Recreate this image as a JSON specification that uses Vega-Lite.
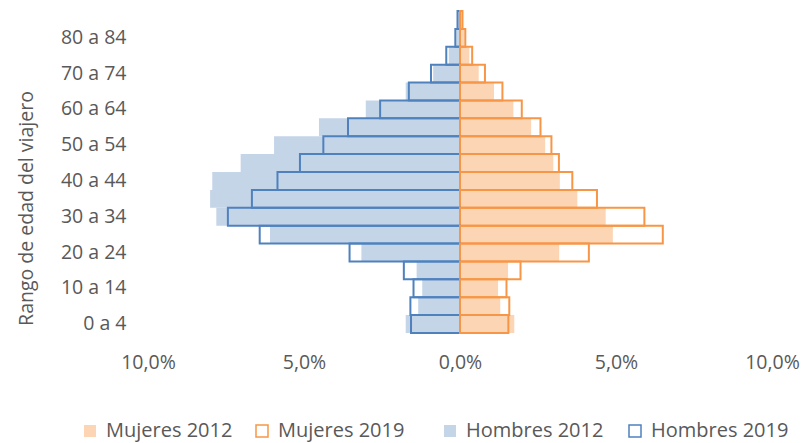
{
  "$schema": "https://vega.github.io/schema/vega-lite/v6.json",
  "width": 624,
  "height": 322,
  "autosize": {"type": "none"},
  "padding": {"left": 148, "top": 11, "right": 30, "bottom": 110},
  "config": {
    "font": "Open Sans",
    "view": {"stroke": null},
    "axis": {"labelColor": "#595959", "labelFontSize": 19.5, "domain": false, "ticks": false, "grid": false, "titleColor": "#595959", "titleFontWeight": "normal", "titleFontSize": 19.5},
    "legend": {"symbolType": "square", "symbolSize": 144, "labelFontSize": 20, "labelColor": "#595959", "labelOffset": 6, "symbolStrokeWidth": 1.5, "symbolOpacity": 1}
  },
  "datasets": {
    "pyr": [
      {"edad": "85 y más", "serie": "Hombres 2012", "valor": -0.07},
      {"edad": "85 y más", "serie": "Hombres 2019", "valor": -0.08},
      {"edad": "85 y más", "serie": "Mujeres 2012", "valor": 0.06},
      {"edad": "85 y más", "serie": "Mujeres 2019", "valor": 0.08},
      {"edad": "80 a 84", "serie": "Hombres 2012", "valor": -0.12},
      {"edad": "80 a 84", "serie": "Hombres 2019", "valor": -0.15},
      {"edad": "80 a 84", "serie": "Mujeres 2012", "valor": 0.14},
      {"edad": "80 a 84", "serie": "Mujeres 2019", "valor": 0.17},
      {"edad": "75 a 79", "serie": "Hombres 2012", "valor": -0.36},
      {"edad": "75 a 79", "serie": "Hombres 2019", "valor": -0.44},
      {"edad": "75 a 79", "serie": "Mujeres 2012", "valor": 0.30},
      {"edad": "75 a 79", "serie": "Mujeres 2019", "valor": 0.39},
      {"edad": "70 a 74", "serie": "Hombres 2012", "valor": -0.86},
      {"edad": "70 a 74", "serie": "Hombres 2019", "valor": -0.93},
      {"edad": "70 a 74", "serie": "Mujeres 2012", "valor": 0.60},
      {"edad": "70 a 74", "serie": "Mujeres 2019", "valor": 0.80},
      {"edad": "65 a 69", "serie": "Hombres 2012", "valor": -1.74},
      {"edad": "65 a 69", "serie": "Hombres 2019", "valor": -1.64},
      {"edad": "65 a 69", "serie": "Mujeres 2012", "valor": 1.09},
      {"edad": "65 a 69", "serie": "Mujeres 2019", "valor": 1.36},
      {"edad": "60 a 64", "serie": "Hombres 2012", "valor": -3.02},
      {"edad": "60 a 64", "serie": "Hombres 2019", "valor": -2.56},
      {"edad": "60 a 64", "serie": "Mujeres 2012", "valor": 1.71},
      {"edad": "60 a 64", "serie": "Mujeres 2019", "valor": 1.98},
      {"edad": "55 a 59", "serie": "Hombres 2012", "valor": -4.52},
      {"edad": "55 a 59", "serie": "Hombres 2019", "valor": -3.59},
      {"edad": "55 a 59", "serie": "Mujeres 2012", "valor": 2.28},
      {"edad": "55 a 59", "serie": "Mujeres 2019", "valor": 2.58},
      {"edad": "50 a 54", "serie": "Hombres 2012", "valor": -5.96},
      {"edad": "50 a 54", "serie": "Hombres 2019", "valor": -4.38},
      {"edad": "50 a 54", "serie": "Mujeres 2012", "valor": 2.73},
      {"edad": "50 a 54", "serie": "Mujeres 2019", "valor": 2.93},
      {"edad": "45 a 49", "serie": "Hombres 2012", "valor": -7.03},
      {"edad": "45 a 49", "serie": "Hombres 2019", "valor": -5.13},
      {"edad": "45 a 49", "serie": "Mujeres 2012", "valor": 2.99},
      {"edad": "45 a 49", "serie": "Mujeres 2019", "valor": 3.17},
      {"edad": "40 a 44", "serie": "Hombres 2012", "valor": -7.94},
      {"edad": "40 a 44", "serie": "Hombres 2019", "valor": -5.85},
      {"edad": "40 a 44", "serie": "Mujeres 2012", "valor": 3.20},
      {"edad": "40 a 44", "serie": "Mujeres 2019", "valor": 3.60},
      {"edad": "35 a 39", "serie": "Hombres 2012", "valor": -8.01},
      {"edad": "35 a 39", "serie": "Hombres 2019", "valor": -6.67},
      {"edad": "35 a 39", "serie": "Mujeres 2012", "valor": 3.76},
      {"edad": "35 a 39", "serie": "Mujeres 2019", "valor": 4.39},
      {"edad": "30 a 34", "serie": "Hombres 2012", "valor": -7.81},
      {"edad": "30 a 34", "serie": "Hombres 2019", "valor": -7.44},
      {"edad": "30 a 34", "serie": "Mujeres 2012", "valor": 4.67},
      {"edad": "30 a 34", "serie": "Mujeres 2019", "valor": 5.91},
      {"edad": "25 a 29", "serie": "Hombres 2012", "valor": -6.09},
      {"edad": "25 a 29", "serie": "Hombres 2019", "valor": -6.42},
      {"edad": "25 a 29", "serie": "Mujeres 2012", "valor": 4.90},
      {"edad": "25 a 29", "serie": "Mujeres 2019", "valor": 6.50},
      {"edad": "20 a 24", "serie": "Hombres 2012", "valor": -3.16},
      {"edad": "20 a 24", "serie": "Hombres 2019", "valor": -3.54},
      {"edad": "20 a 24", "serie": "Mujeres 2012", "valor": 3.18},
      {"edad": "20 a 24", "serie": "Mujeres 2019", "valor": 4.13},
      {"edad": "15 a 19", "serie": "Hombres 2012", "valor": -1.39},
      {"edad": "15 a 19", "serie": "Hombres 2019", "valor": -1.80},
      {"edad": "15 a 19", "serie": "Mujeres 2012", "valor": 1.54},
      {"edad": "15 a 19", "serie": "Mujeres 2019", "valor": 1.94},
      {"edad": "10 a 14", "serie": "Hombres 2012", "valor": -1.21},
      {"edad": "10 a 14", "serie": "Hombres 2019", "valor": -1.49},
      {"edad": "10 a 14", "serie": "Mujeres 2012", "valor": 1.22},
      {"edad": "10 a 14", "serie": "Mujeres 2019", "valor": 1.49},
      {"edad": "5 a 9", "serie": "Hombres 2012", "valor": -1.34},
      {"edad": "5 a 9", "serie": "Hombres 2019", "valor": -1.59},
      {"edad": "5 a 9", "serie": "Mujeres 2012", "valor": 1.29},
      {"edad": "5 a 9", "serie": "Mujeres 2019", "valor": 1.58},
      {"edad": "0 a 4", "serie": "Hombres 2012", "valor": -1.74},
      {"edad": "0 a 4", "serie": "Hombres 2019", "valor": -1.57},
      {"edad": "0 a 4", "serie": "Mujeres 2012", "valor": 1.74},
      {"edad": "0 a 4", "serie": "Mujeres 2019", "valor": 1.55}
    ]
  },
  "data": {"name": "pyr"},
  "encoding": {
    "y": {
      "field": "edad", "type": "nominal",
      "scale": {"domain": ["85 y más","80 a 84","75 a 79","70 a 74","65 a 69","60 a 64","55 a 59","50 a 54","45 a 49","40 a 44","35 a 39","30 a 34","25 a 29","20 a 24","15 a 19","10 a 14","5 a 9","0 a 4"], "paddingInner": 0, "paddingOuter": 0},
      "axis": {
        "title": "Rango de edad del viajero",
        "titleX": -122, "titleY": 197, "titleAngle": -90, "titleAlign": "center", "titleBaseline": "middle",
        "labelPadding": 22,
        "labelExpr": "indexof(['80 a 84','70 a 74','60 a 64','50 a 54','40 a 44','30 a 34','20 a 24','10 a 14','0 a 4'], datum.value) >= 0 ? datum.value : ''"
      }
    }
  },
  "layer": [
    {
      "transform": [{"filter": "indexof(datum.serie, '2012') >= 0"}],
      "mark": {"type": "bar"},
      "encoding": {
        "x": {
          "field": "valor", "type": "quantitative",
          "scale": {"domain": [-10, 10], "nice": false},
          "axis": {"title": null, "values": [-10, -5, 0, 5, 10], "labelPadding": 20, "labelFlush": false, "labelExpr": "replace(format(abs(datum.value), '.1f'), '.', ',') + '%'"}
        },
        "fill": {
          "field": "serie", "type": "nominal",
          "scale": {"domain": ["Mujeres 2012", "Hombres 2012"], "range": ["#FCD5B4", "#C5D5E8"]},
          "legend": {"title": null, "orient": "none", "legendX": -68, "legendY": 410, "direction": "horizontal", "columns": 2, "columnPadding": 207}
        }
      }
    },
    {
      "transform": [{"filter": "indexof(datum.serie, '2019') >= 0"}],
      "mark": {"type": "bar", "filled": false, "strokeWidth": 2},
      "encoding": {
        "x": {"field": "valor", "type": "quantitative"},
        "stroke": {
          "field": "serie", "type": "nominal",
          "scale": {"domain": ["Mujeres 2019", "Hombres 2019"], "range": ["#F79646", "#4F81BD"]},
          "legend": {"title": null, "orient": "none", "legendX": 104, "legendY": 410, "direction": "horizontal", "columns": 2, "columnPadding": 220}
        }
      }
    },
    {
      "mark": {"type": "rule", "color": "#D0D0D0", "strokeWidth": 1.5},
      "encoding": {"x": {"datum": 0}}
    }
  ]
}
